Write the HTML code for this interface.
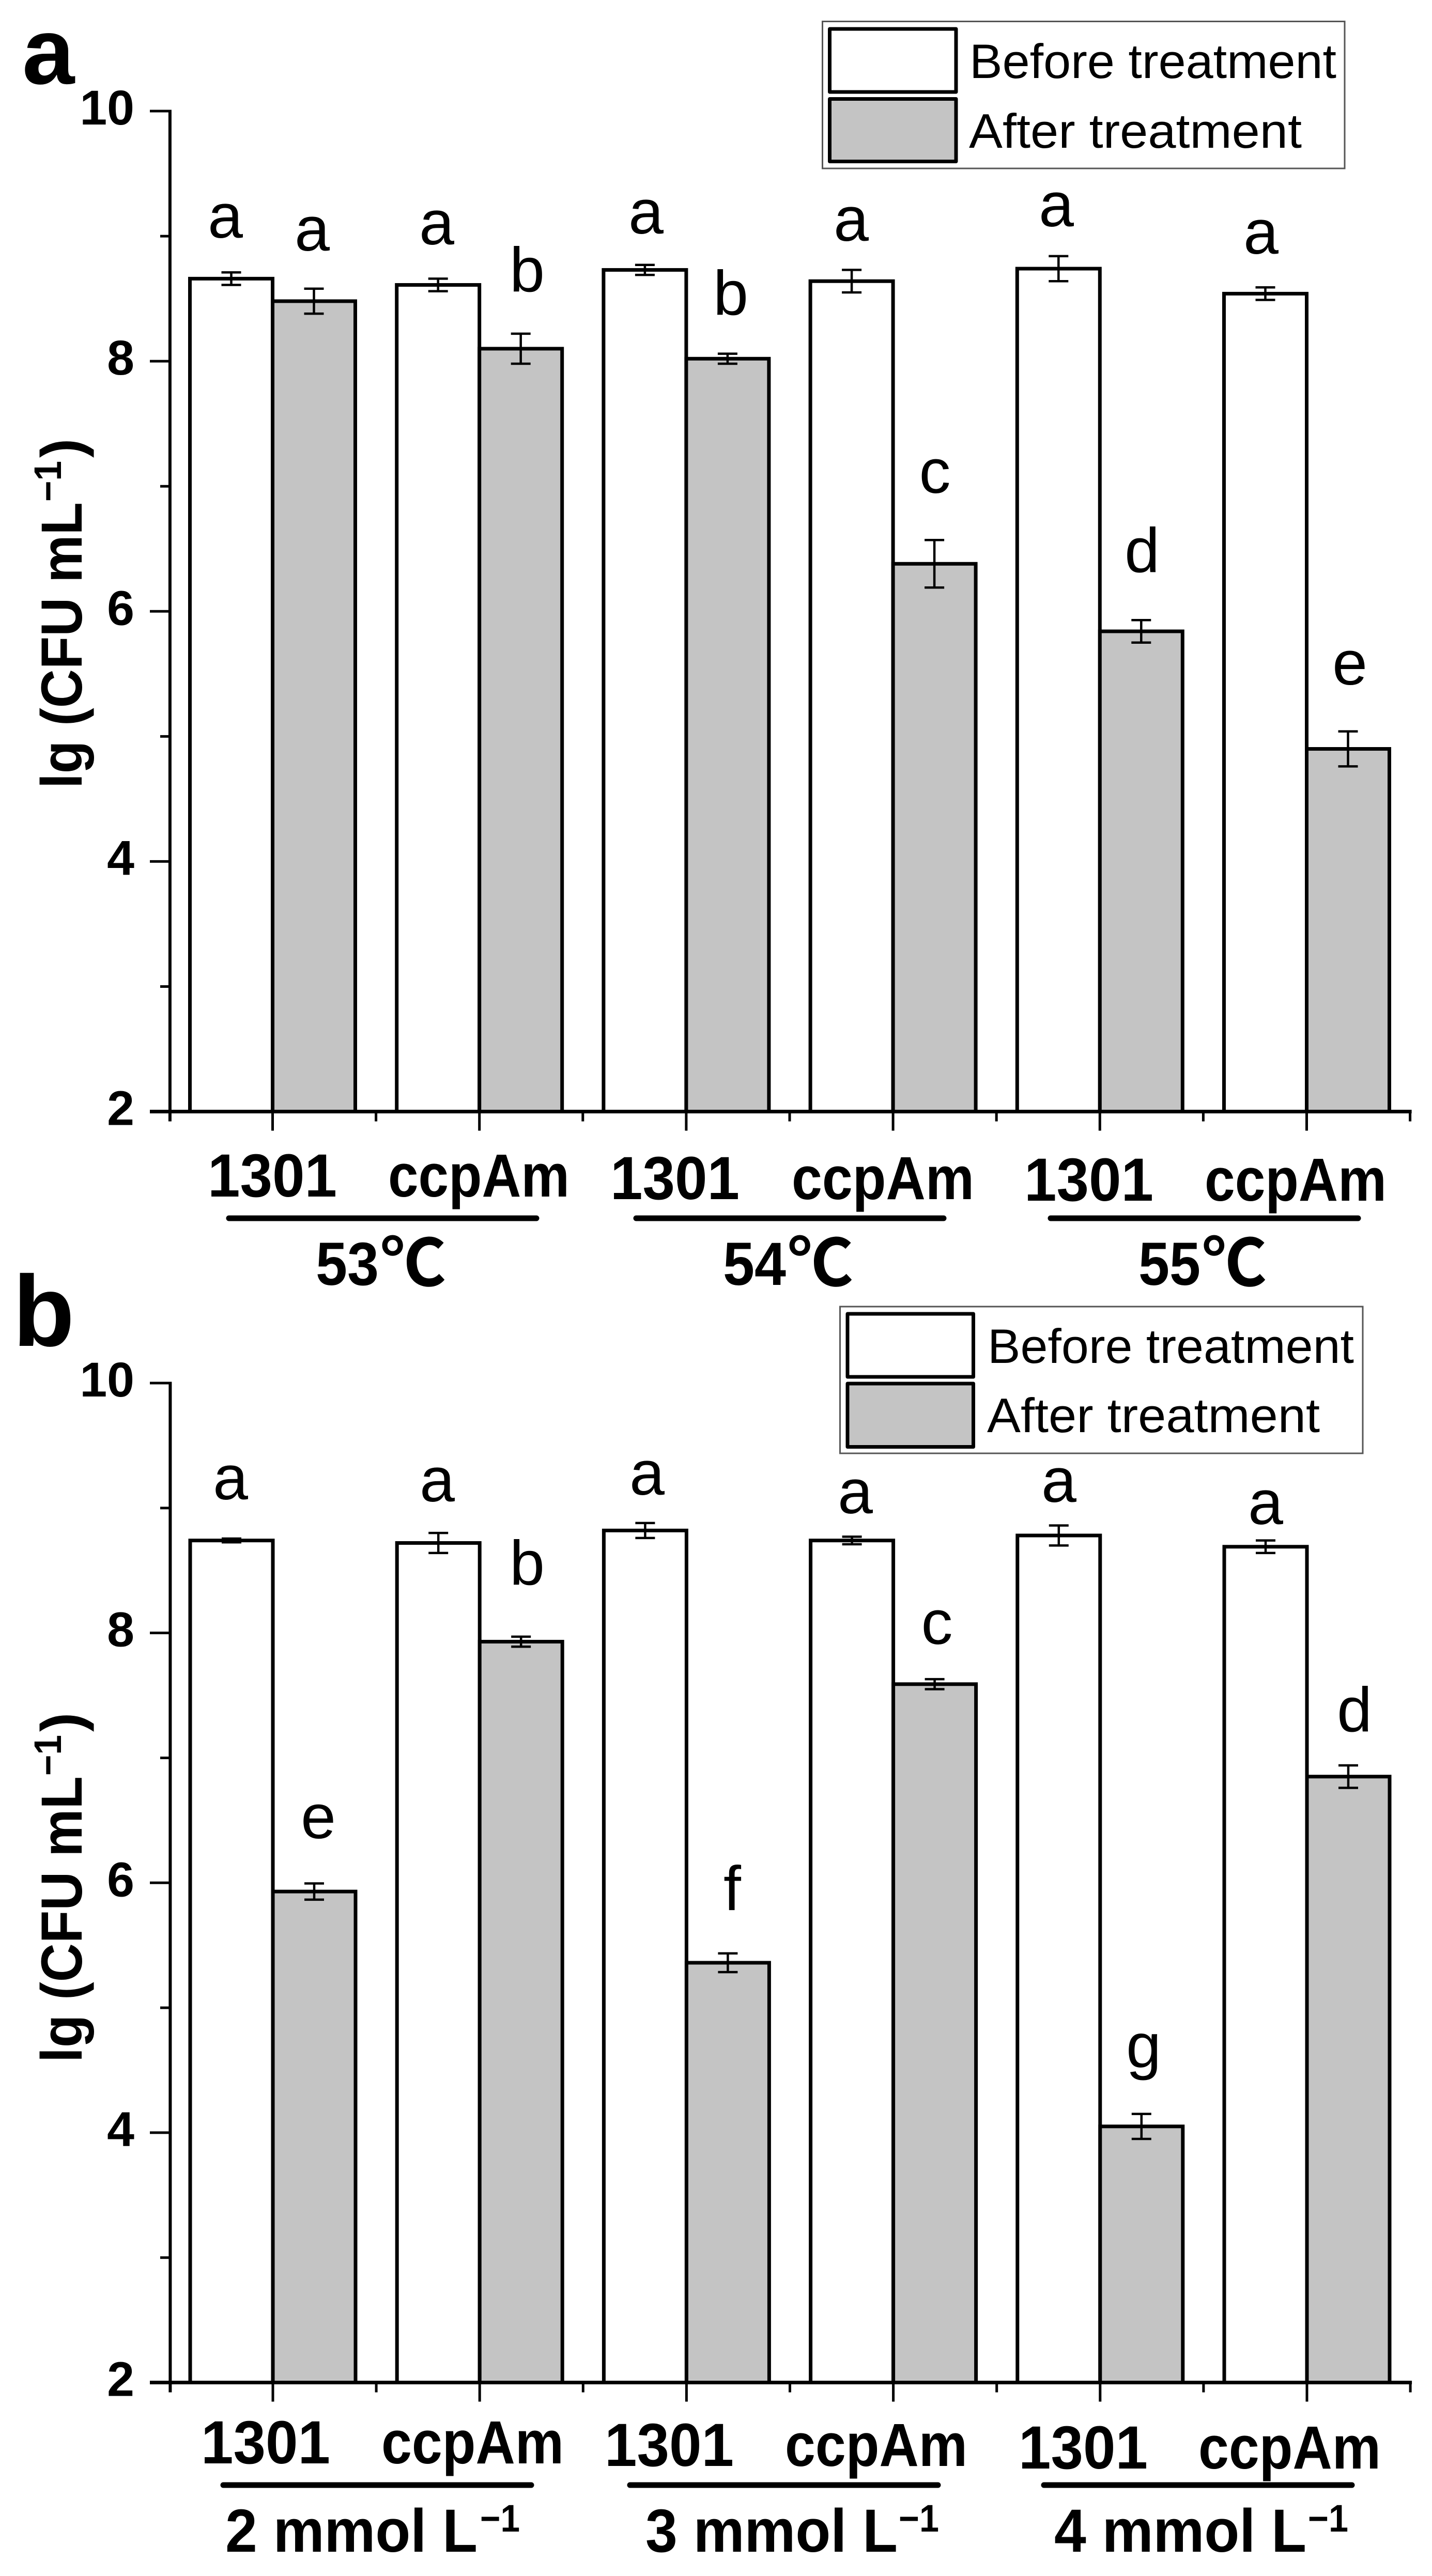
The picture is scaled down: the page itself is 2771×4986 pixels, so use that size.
<!DOCTYPE html>
<html lang="en">
<head>
<meta charset="utf-8">
<title>Survival before and after treatment</title>
<style>
  html, body { margin: 0; padding: 0; background: #ffffff; }
  svg { display: block; }
  text { fill: #000; font-family: "Liberation Sans", "Noto Sans CJK SC", sans-serif; }
  .bold { font-weight: 700; }
  .letter { font-size: 122px; text-anchor: middle; }
  .legend-text { font-size: 94px; }
  .cat { font-size: 118px; font-weight: 700; }
  .deg { font-size: 126px; font-weight: 700; }
  .sup { font-size: 74px; font-weight: 700; }
  .title { font-size: 112px; font-weight: 700; }
  .tick-label { font-size: 95px; font-weight: 700; text-anchor: end; }
</style>
</head>
<body>
<svg id="figure" xmlns="http://www.w3.org/2000/svg" width="2771" height="4986" viewBox="0 0 2771 4986">
  <rect x="0" y="0" width="2771" height="4986" fill="#ffffff"/>

  <!-- PANEL A -->
  <g id="panel-a">
    <text class="bold" x="43" y="162" font-size="182">a</text>
    <g id="marks-a"></g>

    <text class="title" transform="translate(158 1526) rotate(-90)" textLength="554" lengthAdjust="spacingAndGlyphs">lg (CFU mL</text>
    <text class="sup" transform="translate(118 971) rotate(-90)" textLength="79" lengthAdjust="spacingAndGlyphs">−1</text>
    <text class="title" transform="translate(158 886) rotate(-90)">)</text>

    <g>
      <text class="letter" x="436" y="460">a</text>
      <text class="letter" x="604" y="485">a</text>
      <text class="letter" x="845" y="473">a</text>
      <text class="letter" x="1020" y="564">b</text>
      <text class="letter" x="1250" y="452">a</text>
      <text class="letter" x="1414" y="609">b</text>
      <text class="letter" x="1647" y="466">a</text>
      <text class="letter" x="1809" y="954">c</text>
      <text class="letter" x="2044" y="438">a</text>
      <text class="letter" x="2210" y="1107">d</text>
      <text class="letter" x="2440" y="491">a</text>
      <text class="letter" x="2612" y="1325">e</text>
    </g>

    <g>
      <text class="cat" x="402" y="2316" textLength="250" lengthAdjust="spacingAndGlyphs">1301</text>
      <text class="cat" x="751" y="2316" textLength="351" lengthAdjust="spacingAndGlyphs">ccpAm</text>
      <text class="cat" x="1181" y="2321" textLength="250" lengthAdjust="spacingAndGlyphs">1301</text>
      <text class="cat" x="1532" y="2321" textLength="353" lengthAdjust="spacingAndGlyphs">ccpAm</text>
      <text class="cat" x="1982" y="2324" textLength="250" lengthAdjust="spacingAndGlyphs">1301</text>
      <text class="cat" x="2331" y="2324" textLength="352" lengthAdjust="spacingAndGlyphs">ccpAm</text>
      <line x1="443" y1="2358" x2="1038" y2="2358" stroke="#000" stroke-width="11" stroke-linecap="round"/>
      <line x1="1231" y1="2358" x2="1826" y2="2358" stroke="#000" stroke-width="11" stroke-linecap="round"/>
      <line x1="2033" y1="2358" x2="2628" y2="2358" stroke="#000" stroke-width="11" stroke-linecap="round"/>
      <text class="cat" x="611" y="2487" textLength="122" lengthAdjust="spacingAndGlyphs">53</text>
      <text class="deg" x="736" y="2489" textLength="127" lengthAdjust="spacingAndGlyphs">℃</text>
      <text class="cat" x="1399" y="2487" textLength="122" lengthAdjust="spacingAndGlyphs">54</text>
      <text class="deg" x="1524" y="2489" textLength="127" lengthAdjust="spacingAndGlyphs">℃</text>
      <text class="cat" x="2203" y="2487" textLength="120" lengthAdjust="spacingAndGlyphs">55</text>
      <text class="deg" x="2326" y="2489" textLength="125" lengthAdjust="spacingAndGlyphs">℃</text>
    </g>

    <g>
      <rect x="1591.5" y="41.5" width="1010.5" height="284.5" fill="#fff" stroke="#555" stroke-width="3"/>
      <rect x="1605.5" y="56" width="244.5" height="122" fill="#fff" stroke="#000" stroke-width="7" stroke-linejoin="round"/>
      <text class="legend-text" x="1876" y="151" textLength="710" lengthAdjust="spacingAndGlyphs">Before treatment</text>
      <rect x="1605.5" y="191.5" width="244.5" height="121" fill="#c4c4c4" stroke="#000" stroke-width="7" stroke-linejoin="round"/>
      <text class="legend-text" x="1875" y="286" textLength="644" lengthAdjust="spacingAndGlyphs">After treatment</text>
    </g>
  </g>

  <!-- PANEL B -->
  <g id="panel-b">
    <text class="bold" x="25" y="2605" font-size="195">b</text>
    <g id="marks-b"></g>

    <text class="title" transform="translate(158 3992) rotate(-90)" textLength="554" lengthAdjust="spacingAndGlyphs">lg (CFU mL</text>
    <text class="sup" transform="translate(118 3437) rotate(-90)" textLength="79" lengthAdjust="spacingAndGlyphs">−1</text>
    <text class="title" transform="translate(158 3352) rotate(-90)">)</text>

    <g>
      <text class="letter" x="446" y="2902">a</text>
      <text class="letter" x="616" y="3558">e</text>
      <text class="letter" x="846" y="2906">a</text>
      <text class="letter" x="1020" y="3067">b</text>
      <text class="letter" x="1252" y="2893">a</text>
      <text class="letter" x="1417" y="3697">f</text>
      <text class="letter" x="1655" y="2929">a</text>
      <text class="letter" x="1813" y="3182">c</text>
      <text class="letter" x="2049" y="2907">a</text>
      <text class="letter" x="2213" y="4001">g</text>
      <text class="letter" x="2449" y="2950">a</text>
      <text class="letter" x="2621" y="3351">d</text>
    </g>

    <g>
      <text class="cat" x="389" y="4768" textLength="250" lengthAdjust="spacingAndGlyphs">1301</text>
      <text class="cat" x="738" y="4768" textLength="353" lengthAdjust="spacingAndGlyphs">ccpAm</text>
      <text class="cat" x="1170" y="4773" textLength="250" lengthAdjust="spacingAndGlyphs">1301</text>
      <text class="cat" x="1519" y="4773" textLength="353" lengthAdjust="spacingAndGlyphs">ccpAm</text>
      <text class="cat" x="1971" y="4778" textLength="250" lengthAdjust="spacingAndGlyphs">1301</text>
      <text class="cat" x="2319" y="4778" textLength="353" lengthAdjust="spacingAndGlyphs">ccpAm</text>
      <line x1="432" y1="4810" x2="1028" y2="4810" stroke="#000" stroke-width="11" stroke-linecap="round"/>
      <line x1="1219" y1="4810" x2="1815" y2="4810" stroke="#000" stroke-width="11" stroke-linecap="round"/>
      <line x1="2020" y1="4810" x2="2616" y2="4810" stroke="#000" stroke-width="11" stroke-linecap="round"/>

      <text class="cat" x="436" y="4939" textLength="488" lengthAdjust="spacingAndGlyphs">2 mmol L</text>
      <text class="sup" x="929" y="4900" textLength="77" lengthAdjust="spacingAndGlyphs">−1</text>
      <text class="cat" x="1249" y="4939" textLength="488" lengthAdjust="spacingAndGlyphs">3 mmol L</text>
      <text class="sup" x="1739" y="4900" textLength="78" lengthAdjust="spacingAndGlyphs">−1</text>
      <text class="cat" x="2040" y="4939" textLength="488" lengthAdjust="spacingAndGlyphs">4 mmol L</text>
      <text class="sup" x="2531" y="4900" textLength="78" lengthAdjust="spacingAndGlyphs">−1</text>
    </g>

    <g>
      <rect x="1625.5" y="2529" width="1011.5" height="284" fill="#fff" stroke="#555" stroke-width="3"/>
      <rect x="1640" y="2543" width="243.5" height="122" fill="#fff" stroke="#000" stroke-width="7" stroke-linejoin="round"/>
      <text class="legend-text" x="1911" y="2638" textLength="709" lengthAdjust="spacingAndGlyphs">Before treatment</text>
      <rect x="1640" y="2678" width="243.5" height="122.5" fill="#c4c4c4" stroke="#000" stroke-width="7" stroke-linejoin="round"/>
      <text class="legend-text" x="1910" y="2772" textLength="644" lengthAdjust="spacingAndGlyphs">After treatment</text>
    </g>
  </g>
</svg>

<script>
// Data
const categoriesA = ['1301 53C', 'ccpAm 53C', '1301 54C', 'ccpAm 54C', '1301 55C', 'ccpAm 55C'];
const beforeA = [8.66, 8.61, 8.73, 8.64, 8.74, 8.54];
const beforeErrA = [0.05, 0.05, 0.04, 0.09, 0.10, 0.05];
const afterA = [8.48, 8.10, 8.02, 6.38, 5.84, 4.90];
const afterErrA = [0.10, 0.12, 0.04, 0.19, 0.09, 0.14];

const categoriesB = ['1301 2mM', 'ccpAm 2mM', '1301 3mM', 'ccpAm 3mM', '1301 4mM', 'ccpAm 4mM'];
const beforeB = [8.74, 8.72, 8.82, 8.74, 8.78, 8.69];
const beforeErrB = [0.015, 0.08, 0.06, 0.03, 0.08, 0.05];
const afterB = [5.93, 7.93, 5.36, 7.59, 4.05, 6.85];
const afterErrB = [0.065, 0.04, 0.075, 0.04, 0.10, 0.09];

const majorYTicks = [2, 4, 6, 8, 10];
const minorYTicks = [3, 5, 7, 9];
const yTickLabels = ['2', '4', '6', '8', '10'];

const SVG_NS = 'http://www.w3.org/2000/svg';

function makeLine(parent, x1, y1, x2, y2, width) {
  const el = document.createElementNS(SVG_NS, 'line');
  el.setAttribute('x1', x1);
  el.setAttribute('y1', y1);
  el.setAttribute('x2', x2);
  el.setAttribute('y2', y2);
  el.setAttribute('stroke', '#000');
  el.setAttribute('stroke-width', width);
  parent.appendChild(el);
  return el;
}

function drawPanel(panel) {
  const root = document.getElementById(panel.rootId);
  const yMin = majorYTicks[0];
  const yMax = majorYTicks[majorYTicks.length - 1];
  const yScale = v => panel.yBottom + (v - yMin) * (panel.yTop - panel.yBottom) / (yMax - yMin);
  const xScale = i => panel.xFirst + panel.pitch * i;
  const barWidth = 160;
  const capHalf = 19;

  function drawBar(i, value, err, left, fill, series) {
    const barTop = yScale(value);
    const bar = document.createElementNS(SVG_NS, 'rect');
    bar.setAttribute('x', left);
    bar.setAttribute('y', barTop);
    bar.setAttribute('width', barWidth);
    bar.setAttribute('height', yScale(yMin) - barTop);
    bar.setAttribute('fill', fill);
    bar.setAttribute('stroke', '#000');
    bar.setAttribute('stroke-width', 7);
    
    
    bar.setAttribute('data-series', series);
    bar.setAttribute('data-category', panel.categories[i]);
    root.appendChild(bar);

    const cx = left + barWidth / 2;
    const top = yScale(value + err);
    const bottom = yScale(value - err);
    const stem = makeLine(root, cx, top, cx, bottom, 4.5);
    
    
    const capTop = makeLine(root, cx - capHalf, top, cx + capHalf, top, 4.5);
    
    
    const capBottom = makeLine(root, cx - capHalf, bottom, cx + capHalf, bottom, 4.5);
    
    
  }

  panel.categories.forEach((cat, i) => {
    drawBar(i, panel.before[i], panel.beforeErr[i], xScale(i) - barWidth, '#ffffff', 'before-treatment');
  });
  panel.categories.forEach((cat, i) => {
    drawBar(i, panel.after[i], panel.afterErr[i], xScale(i), '#c4c4c4', 'after-treatment');
  });

  const axisX = xScale(0) - panel.pitch / 2 + 1.5;
  const baseY = yScale(yMin);

  const yAxis = makeLine(root, axisX, yScale(yMax) - 2.5, axisX, baseY + 19, 6);
  
  

  const xAxis = makeLine(root, 290, baseY, xScale(panel.categories.length - 1) + panel.pitch / 2 + 3, baseY, 7);
  
  

  majorYTicks.forEach((v, i) => {
    const y = yScale(v);
    const tick = makeLine(root, 290, y, axisX, y, 5);
    
    
    const label = document.createElementNS(SVG_NS, 'text');
    label.setAttribute('class', 'tick-label');
    label.setAttribute('x', 260);
    label.setAttribute('y', y + 26);
    
    
    label.textContent = yTickLabels[i];
    root.appendChild(label);
  });

  minorYTicks.forEach(v => {
    const y = yScale(v);
    const tick = makeLine(root, 310, y, axisX, y, 5);
    
    
  });

  panel.categories.forEach((cat, i) => {
    const x = xScale(i);
    const major = makeLine(root, x, baseY, x, baseY + 37, 5);
    
    
    const minorX = x + panel.pitch / 2;
    const minor = makeLine(root, minorX, baseY, minorX, baseY + 19, 5);
    
    
  });
}

drawPanel({
  rootId: 'marks-a',
  categories: categoriesA,
  before: beforeA,
  beforeErr: beforeErrA,
  after: afterA,
  afterErr: afterErrA,
  yTop: 215,
  yBottom: 2151.5,
  xFirst: 527.5,
  pitch: 400.2
});

drawPanel({
  rootId: 'marks-b',
  categories: categoriesB,
  before: beforeB,
  beforeErr: beforeErrB,
  after: afterB,
  afterErr: afterErrB,
  yTop: 2677,
  yBottom: 4611.5,
  xFirst: 528,
  pitch: 400.2
});
</script>
</body>
</html>
